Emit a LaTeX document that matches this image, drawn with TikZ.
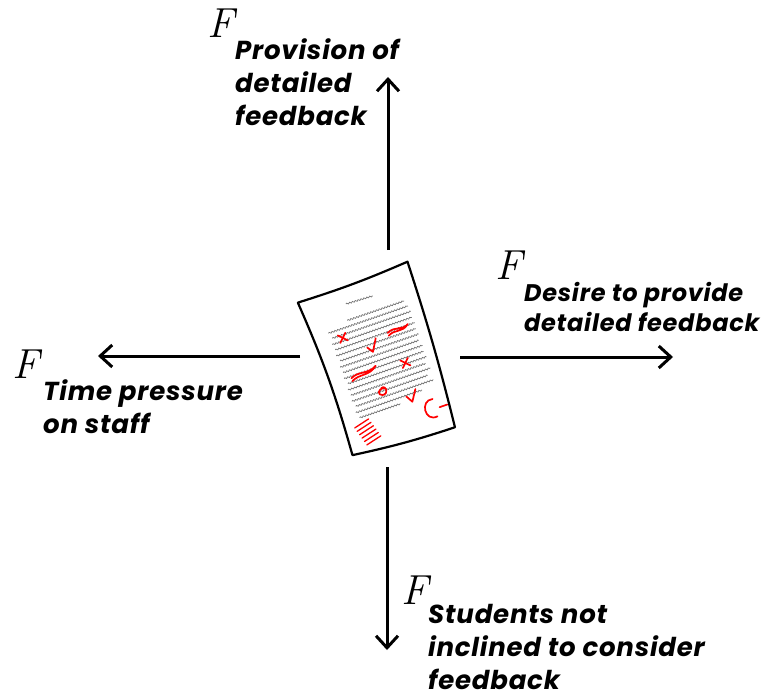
\documentclass[tikz,border=0pt]{standalone}
\usepackage{fontspec}
\setsansfont{Poppins}[LetterSpace=3]
\usetikzlibrary{arrows.meta,decorations.pathmorphing}
\tikzset{
            force/.style={anchor=base west,inner sep=0pt,font=\fontsize{42}{42}\selectfont\rmfamily\itshape},
            cause/.style={anchor=north west,inner sep=0pt,align=left,
                font=\fontsize{26}{33}\selectfont\sffamily\bfseries\itshape},
            push/.style={line width=3pt,-{Straight Barb[length=12pt,width=22pt]}},
            sheet/.style={line width=2.2pt,line join=round},
            scribble/.style={black!55,line width=.7pt,decorate,
                decoration={snake,amplitude=.7pt,segment length=3pt}},
            redpen/.style={red,line width=1.7pt,line cap=round,line join=round}
        }

\begin{document}
\begin{tikzpicture}[x=1pt,y=-1pt]
    \useasboundingbox (0,0) rectangle (773,698);

    % the marked-up sheet
    \begin{scope}[shift={(380,360)},rotate=19]
        \draw[sheet] (-59,-81) to[bend right=3] (58,-84) to[bend left=2] (49,88)
            to[bend left=3] (-57,81) to[bend right=4] cycle;
        \draw[scribble] (-14,-64) -- (14,-63);
        \foreach \b/\l/\r in {-48/-18/42,-42/-40/44,-36/-38/45,-30/-40/44,-24/-39/45,
                             -18/-40/44,-12/-38/45,-6/-40/43,0/-39/45,6/-40/44,
                             12/-38/45,18/-40/42,24/-39/45,30/-40/40,36/-38/44,42/-40/30,48/-38/5}
            \draw[scribble] (\l,\b) -- (\r,\b);
        \draw[redpen] (-32,-37) -- (-24,-29) (-32,-29) -- (-24,-37);
        \draw[redpen] (-8,-16) -- (-4,-10) -- (3,-22);
        \draw[redpen] (16,-23) .. controls (25,-28) and (30,-20) .. (38,-25)
            .. controls (30,-18) and (24,-25) .. (16,-20);
        \draw[redpen] (-33,8) .. controls (-24,3) and (-16,10) .. (-6,4)
            .. controls (-15,12) and (-24,6) .. (-33,11);
        \draw[redpen] (19,7) -- (27,15) (19,15) -- (27,7);
        \draw[redpen] (-8,27) .. controls (-2,25) and (-2,35) .. (-9,34) .. controls (-14,33) and (-12,26) .. (-5,28);
        \draw[redpen] (13,43) -- (17,50) -- (24,39);
        \draw[redpen] (37,54) .. controls (24,51) and (22,74) .. (36,72);
        \draw[redpen] (41,64) -- (49,64);
        \foreach \d in {0,4,8,12,16,20}
            \draw[redpen,line width=1.3pt] (-46+\d*0.3,56+\d) -- (-30+\d*0.3,52+\d);
    \end{scope}

    % forces acting on it
    \coordinate (n0) at (388,250); \coordinate (n1) at (388,77);
    \coordinate (e0) at (460,357); \coordinate (e1) at (673,357);
    \coordinate (w0) at (300,356); \coordinate (w1) at (98,356);
    \coordinate (s0) at (387,467); \coordinate (s1) at (387,650);
    \draw[push] (n0) -- (n1);
    \draw[push] (e0) -- (e1);
    \draw[push] (w0) -- (w1);
    \draw[push] (s0) -- (s1);

    \node[force] (fn) at (207,38) {F};
    \node[cause] (cn) at (235,38) {Provision of\\detailed\\feedback};
    \node[force] (fe) at (495,279) {F};
    \node[cause,font=\fontsize{24}{30}\selectfont\sffamily\bfseries\itshape] (ce) at (524,282) {Desire to provide\\detailed feedback};
    \node[force] (fw) at (12,378) {F};
    \node[cause] (cw) at (43,379) {Time pressure\\on staff};
    \node[force] (fs) at (401,604) {F};
    \node[cause] (cs) at (428,604) {Students not\\inclined to consider\\feedback};
\end{tikzpicture}
\end{document}
